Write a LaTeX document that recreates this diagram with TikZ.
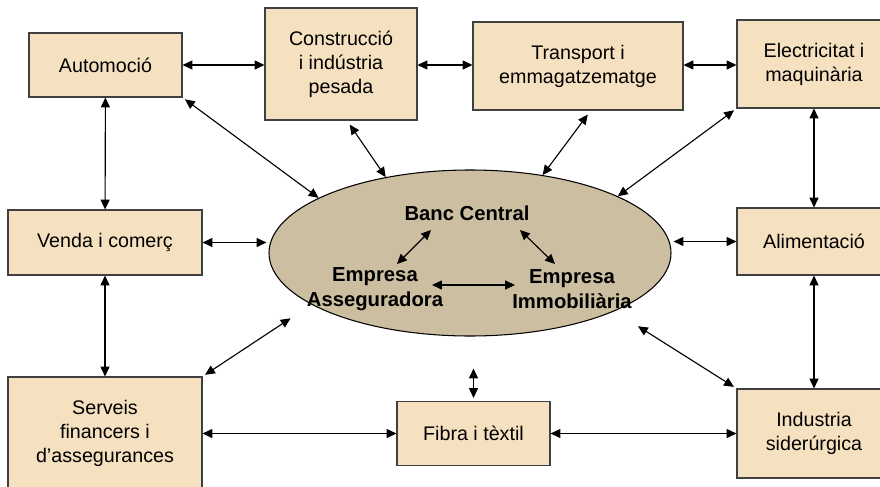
\documentclass[tikz,border=0pt]{standalone}
\usepackage{fontspec}
\setmainfont{Liberation Sans}
\usepackage{tikz}
\usetikzlibrary{arrows.meta,shapes.geometric}
\definecolor{SectorFill}{RGB}{245,225,192}
\definecolor{CoreFill}{RGB}{204,190,160}
\definecolor{SectorLine}{RGB}{64,64,64}
\newlength\pxlen
\setlength\pxlen{0.025cm}

\begin{document}
\begin{tikzpicture}[x=1\pxlen,y=-1\pxlen,font=\fontsize{14}{17}\selectfont,
sector/.style n args={2}{draw=SectorLine,line width=0.75pt,fill=SectorFill,align=center,minimum width=#1\pxlen,minimum height=#2\pxlen,inner sep=0pt},
firm/.style={font=\fontsize{14.4}{18}\selectfont\bfseries,align=center,inner sep=0pt},
biarrow/.style={{Triangle[length=7pt,width=6.4pt]}-{Triangle[length=7pt,width=6.4pt]},line width=0.8pt}]
\useasboundingbox (0,0) rectangle (880,486);
% central ellipse
\node[ellipse,draw,line width=0.75pt,fill=CoreFill,minimum width=402\pxlen,minimum height=166\pxlen,inner sep=0pt](core) at(470,253) {};
\node[firm](banc) at(467,213) {Banc Central};
\node[firm](asseg) at(375,289) {Empresa\\Asseguradora};
\node[firm](immob) at(572,289) {Empresa\\Immobiliària};
% sectors
\node[sector={153}{64}](autom) at(105.5,65) {Automoció};
\node[sector={152}{112}](constr) at(341,64) {Construcció\\i indústria\\pesada};
\node[sector={210}{88}](transp) at(578,66) {Transport i\\emmagatzematge};
\node[sector={154}{88}](elec) at(814,64) {Electricitat i\\maquinària};
\node[sector={194}{65}](venda) at(105,242.5) {Venda i comerç};
\node[sector={154}{67}](alim) at(814,241.5) {Alimentació};
\node[sector={194}{112}](serv) at(105,433) {Serveis\\financers i\\d’assegurances};
\node[sector={153}{64}](fibra) at(473.5,433.5) {Fibra i tèxtil};
\node[sector={154}{89}](indus) at(814,433.5) {Industria\\siderúrgica};
% links between sectors
\draw[biarrow] (autom) -- (constr.west |- autom);
\draw[biarrow] (constr.east |- autom) -- (transp.west |- autom);
\draw[biarrow] (transp.east |- autom) -- (elec.west |- autom);
\draw[biarrow] (autom) -- (venda);
\draw[biarrow] (venda) -- (serv);
\draw[biarrow] (elec) -- (alim);
\draw[biarrow] (alim) -- (indus);
\draw[biarrow] (serv.east |- fibra) -- (fibra);
\draw[biarrow] (fibra) -- (indus.west |- fibra);
% links to the core
\draw[biarrow,shorten >=2\pxlen] (venda.east) -- (venda.east -| core.west);
\draw[biarrow,shorten >=2\pxlen] (alim.west) -- (alim.west -| core.east);
\draw[biarrow,shorten <=3\pxlen,shorten >=32\pxlen] (fibra.north) -- (fibra.north |- core.south);
\draw[biarrow,shorten <=3\pxlen] (autom.south east) -- (core.160);
\draw[biarrow,shorten <=5\pxlen] (constr.-84) -- (core.138);
\draw[biarrow,shorten <=5\pxlen] (transp.-74) -- (core.47);
\draw[biarrow,shorten <=3\pxlen] (elec.south west) -- (core.21);
\draw[biarrow,shorten <=3\pxlen,shorten >=25\pxlen] (serv.north east) -- (core.198);
\draw[biarrow,shorten <=3\pxlen,shorten >=28\pxlen] (indus.north west) -- (core.338);
% links inside the core
\draw[biarrow] ([shift={(-36,17)}]banc.center) -- ([shift={(22,-25)}]asseg.center);
\draw[biarrow] ([shift={(53,17)}]banc.center) -- ([shift={(-17,-25)}]immob.center);
\draw[biarrow] ([shift={(57,-4)}]asseg.center) -- ([shift={(-57,-4)}]immob.center);
\end{tikzpicture}
\end{document}
